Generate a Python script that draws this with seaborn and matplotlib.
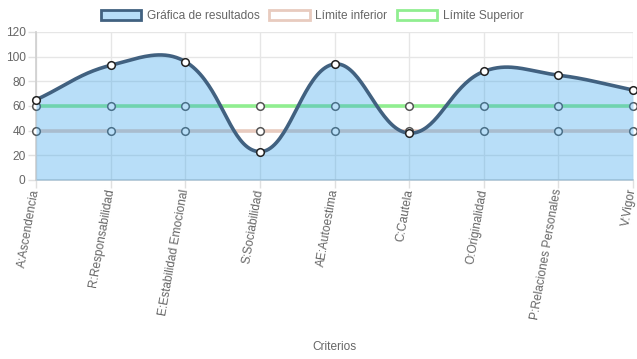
import numpy as np
import pandas as pd
import matplotlib
matplotlib.use("Agg")
import matplotlib.pyplot as plt
import seaborn as sns
from matplotlib.patches import Rectangle

categorias = ["A:Ascendencia", "R:Responsabilidad", "E:Estabilidad Emocional",
              "S:Sociabilidad", "AE:Autoestima", "C:Cautela", "O:Originalidad",
              "P:Relaciones Personales", "V:Vigor"]
resultados = [65, 93, 96, 23, 94, 38, 88, 85, 73]
limite_inferior = [40, 40, 40, 40, 40, 40, 40, 40, 40]
limite_superior = [60, 60, 60, 60, 60, 60, 60, 60, 60]
yticks = [0, 20, 40, 60, 80, 100, 120]

sns.set_theme(style="white")
plt.rcParams['font.family'] = ['Liberation Sans', 'DejaVu Sans']
FS = 8.6

W, H = 637, 359
fig = plt.figure(figsize=(W / 100, H / 100), dpi=100)
L, R, T, B = 36, 633, 32, 180
ax = fig.add_axes([L / W, 1 - B / H, (R - L) / W, (B - T) / H])
ax.set_xlim(0, len(categorias) - 1)
ax.set_ylim(0, 120)

# pixel scale for Chart.js-style spline (tension 0.4)
sx = (R - L) / (len(categorias) - 1)
sy = (B - T) / 120.0


def chartjs_curve(xs, ys, t=0.4, n=40):
    px = np.array(xs, float) * sx
    py = np.array(ys, float) * sy
    N = len(px)
    cps = []
    for i in range(N):
        p0 = (px[max(i - 1, 0)], py[max(i - 1, 0)])
        p1 = (px[i], py[i])
        p2 = (px[min(i + 1, N - 1)], py[min(i + 1, N - 1)])
        d01 = np.hypot(p1[0] - p0[0], p1[1] - p0[1])
        d12 = np.hypot(p2[0] - p1[0], p2[1] - p1[1])
        tot = d01 + d12
        s01 = d01 / tot if tot else 0
        s12 = d12 / tot if tot else 0
        fa, fb = t * s01, t * s12
        prev = (p1[0] - fa * (p2[0] - p0[0]), p1[1] - fa * (p2[1] - p0[1]))
        nxt = (p1[0] + fb * (p2[0] - p0[0]), p1[1] + fb * (p2[1] - p0[1]))
        cps.append((prev, nxt))
    outx, outy = [], []
    u = np.linspace(0, 1, n)
    for i in range(N - 1):
        P0 = np.array([px[i], py[i]])
        P1 = np.array(cps[i][1])
        P2 = np.array(cps[i + 1][0])
        P3 = np.array([px[i + 1], py[i + 1]])
        seg = ((1 - u) ** 3)[:, None] * P0 + (3 * (1 - u) ** 2 * u)[:, None] * P1 \
            + (3 * (1 - u) * u ** 2)[:, None] * P2 + (u ** 3)[:, None] * P3
        outx.extend(seg[:, 0] / sx)
        outy.extend(seg[:, 1] / sy)
    return np.array(outx), np.array(outy)


x = np.arange(len(categorias))
df = pd.DataFrame({"x": x, "res": resultados, "inf": limite_inferior, "sup": limite_superior})

# grid
ax.set_yticks(yticks)
ax.set_xticks(x)
ax.grid(True, color="#e6e6e6", linewidth=1)
ax.set_axisbelow(True)

# limit lines (drawn beneath)
sns.lineplot(data=df, x="x", y="sup", ax=ax, color="#90ee90", linewidth=2.6, zorder=2)
sns.lineplot(data=df, x="x", y="inf", ax=ax, color="#e8cbbf", linewidth=2.6, zorder=2)
sns.scatterplot(data=df, x="x", y="sup", ax=ax, s=30, color="white", edgecolor="#555555",
                linewidth=1.1, zorder=3, clip_on=False)
sns.scatterplot(data=df, x="x", y="inf", ax=ax, s=30, color="white", edgecolor="#555555",
                linewidth=1.1, zorder=3, clip_on=False)

# main dataset
cx, cy = chartjs_curve(x, resultados)
ax.fill_between(cx, 0, cy, color=(54 / 255, 162 / 255, 235 / 255, 0.35), linewidth=0, zorder=4)
ax.plot(cx, cy, color="#416180", linewidth=2.6, zorder=5, solid_capstyle="round")
sns.scatterplot(data=df, x="x", y="res", ax=ax, s=30, color="white", edgecolor="#222222",
                linewidth=1.1, zorder=6, clip_on=False)

ax.set_xlabel("")
ax.set_ylabel("")
ax.set_xticklabels(categorias, rotation=80, ha="right", va="center",
                   rotation_mode="anchor", fontsize=FS, color="#666666")
ax.set_yticklabels([str(v) for v in yticks], fontsize=FS, color="#666666")
ax.tick_params(axis="both", length=6, color="#e0e0e0", width=1, bottom=True, left=True)
ax.tick_params(axis="x", pad=0.5)
ax.tick_params(axis="y", pad=1.5)
for s in ["top", "right"]:
    ax.spines[s].set_visible(False)
ax.spines["left"].set_color("#d0d0d0")
ax.spines["bottom"].set_color("#d0d0d0")
ax.spines["bottom"].set_linewidth(1.2)

fig.text(334 / W, 1 - 347 / H, "Criterios", ha="center", va="center",
         fontsize=FS, color="#666666")

# legend
handles = [
    Rectangle((0, 0), 1, 1, facecolor=(54 / 255, 162 / 255, 235 / 255, 0.35),
              edgecolor="#416180", linewidth=2),
    Rectangle((0, 0), 1, 1, facecolor="white", edgecolor="#e8cbbf", linewidth=2),
    Rectangle((0, 0), 1, 1, facecolor="white", edgecolor="#90ee90", linewidth=2),
]
fig.legend(handles, ["Gráfica de resultados", "Límite inferior", "Límite Superior"],
           loc="center", bbox_to_anchor=(312 / W, 1 - 16 / H), ncol=3, frameon=False,
           fontsize=FS, handlelength=3.4, handleheight=0.95, columnspacing=0.8,
           handletextpad=0.45, labelcolor="#666666")

fig.savefig("out.png", dpi=100)
